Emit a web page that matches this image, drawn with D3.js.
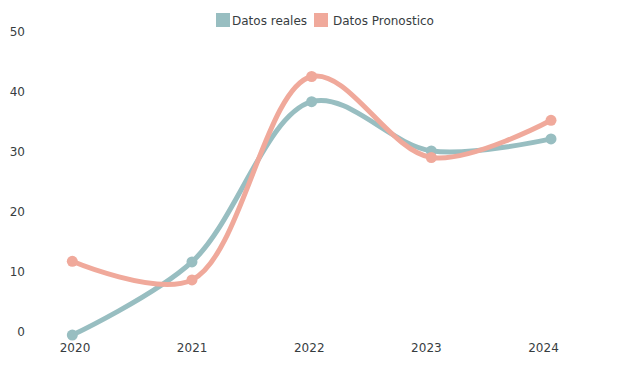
<!DOCTYPE html>
<html><head><meta charset="utf-8">
<script src="https://cdn.jsdelivr.net/npm/d3@7"></script>
<style>body{margin:0;background:#fff}svg{display:block}text{font-family:"DejaVu Sans",sans-serif;fill:#373d3f}</style>
</head><body><svg id="c" width="619" height="370"></svg>
<script>
const years = ["2020","2021","2022","2023","2024"];
const reales = [-0.6, 11.6, 38.3, 30.1, 32.1];
const pronostico = [11.7, 8.6, 42.5, 29.0, 35.2];
const yTicks = [0,10,20,30,40,50];
const seriesNames = ["Datos reales","Datos Pronostico"];
const colors = ["#98bec1","#f0a99b"];

const svg = d3.select("#c");
const x = d3.scalePoint().domain(years).range([72.3, 551]);
const xl = d3.scalePoint().domain(years).range([74.5, 543]);
const y = d3.scaleLinear().domain([0,50]).range([331.5, 31.5]);

// y axis
const ya = svg.append("g").attr("transform","translate(25,0)")
  .call(d3.axisLeft(y).tickValues(yTicks).tickSize(0).tickPadding(0));
ya.select(".domain").remove();
ya.selectAll("text").attr("font-size",12).attr("font-family","DejaVu Sans").attr("fill","#373d3f").attr("dy","0.35em");

// x axis
const xa = svg.append("g").attr("transform","translate(0,343)")
  .call(d3.axisBottom(xl).tickSize(0).tickPadding(0));
xa.select(".domain").remove();
xa.selectAll("text").attr("font-size",12).attr("font-family","DejaVu Sans").attr("fill","#373d3f").attr("dy","0.71em");

const line = d3.line().x((d,i)=>x(years[i])).y(d=>y(d)).curve(d3.curveCatmullRom.alpha(0.5));
[reales, pronostico].forEach((s,k)=>{
  svg.append("path").attr("d", line(s)).attr("fill","none").attr("stroke",colors[k])
    .attr("stroke-width",5).attr("stroke-linecap","round");
  svg.selectAll(null).data(s).enter().append("circle")
    .attr("cx",(d,i)=>x(years[i])).attr("cy",d=>y(d)).attr("r",5.5).attr("fill",colors[k]);
});

// legend
const lg = [{x:216, tx:232},{x:314, tx:333}];
seriesNames.forEach((n,k)=>{
  svg.append("rect").attr("x",lg[k].x).attr("y",13).attr("width",14).attr("height",14).attr("fill",colors[k]);
  svg.append("text").attr("x",lg[k].tx).attr("y",20.5).attr("dy","0.35em").attr("font-size",12).text(n);
});
</script></body></html>
